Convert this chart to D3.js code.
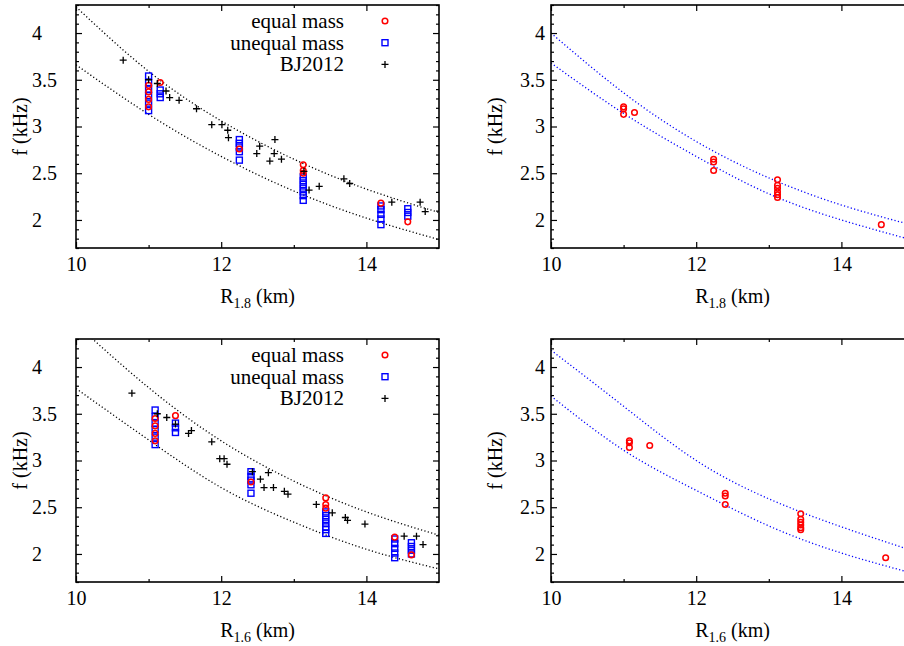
<!DOCTYPE html>
<head>
<meta charset="utf-8">
<title>Peak frequency vs radius</title>
<style>
   body {
		   margin: 0;
		   background: #ffffff;
   }
</style>
</head>
<body>

<div id="chartDiv"></div>

<script src="https://d3js.org/d3.v7.min.js"></script>
<script>

   //	Data: [R (km), f (kHz)]

   var eqMass18 = [[11.0,3.44],[11.0,3.37],[11.0,3.29],[11.0,3.21],[11.16,3.47],[12.25,2.76],
	   [13.13,2.59],[13.13,2.53],[13.13,2.50],[14.2,2.18],[14.57,1.98]];
   var uneqMass18 = [[11.0,3.54],[11.0,3.47],[11.0,3.40],[11.0,3.33],[11.0,3.25],[11.0,3.17],
	   [11.16,3.39],[11.16,3.35],[11.16,3.31],
	   [12.25,2.86],[12.25,2.82],[12.25,2.78],[12.25,2.73],[12.25,2.64],
	   [13.13,2.46],[13.13,2.42],[13.13,2.38],[13.13,2.34],[13.13,2.30],[13.13,2.26],[13.13,2.21],
	   [14.2,2.15],[14.2,2.11],[14.2,2.06],[14.2,2.01],[14.2,1.95],
	   [14.57,2.12],[14.57,2.08],[14.57,2.04]];
   var bj18 = [[10.65,3.71],[11.0,3.50],[11.12,3.46],[11.24,3.38],[11.29,3.31],[11.42,3.28],
	   [11.66,3.19],[11.87,3.02],[12.01,3.02],[12.09,2.96],[12.10,2.88],[12.49,2.71],[12.53,2.79],
	   [12.67,2.63],[12.73,2.71],[12.74,2.86],[12.83,2.65],[13.14,2.52],[13.21,2.32],[13.35,2.36],
	   [13.69,2.44],[13.77,2.39],[14.35,2.19],[14.74,2.19],[14.81,2.09]];

   var eqMass16 = [[11.09,3.45],[11.09,3.37],[11.09,3.29],[11.09,3.21],[11.37,3.48],[12.41,2.77],
	   [13.44,2.60],[13.44,2.53],[13.44,2.49],[14.39,2.18],[14.62,1.99]];
   var uneqMass16 = [[11.09,3.54],[11.09,3.47],[11.09,3.40],[11.09,3.33],[11.09,3.25],[11.09,3.17],
	   [11.37,3.40],[11.37,3.35],[11.37,3.30],
	   [12.41,2.88],[12.41,2.83],[12.41,2.79],[12.41,2.74],[12.41,2.65],
	   [13.44,2.45],[13.44,2.41],[13.44,2.37],[13.44,2.33],[13.44,2.29],[13.44,2.26],[13.44,2.22],
	   [14.39,2.16],[14.39,2.11],[14.39,2.06],[14.39,2.01],[14.39,1.96],
	   [14.62,2.12],[14.62,2.08],[14.62,2.04],[14.62,2.00]];
   var bj16 = [[10.77,3.72],[11.12,3.50],[11.25,3.46],[11.37,3.39],[11.55,3.29],[11.59,3.32],
	   [11.87,3.20],[11.98,3.02],[12.04,3.02],[12.08,2.96],[12.43,2.88],[12.54,2.80],[12.59,2.71],
	   [12.65,2.87],[12.72,2.71],[12.87,2.67],[12.92,2.64],[13.31,2.53],[13.53,2.44],[13.71,2.39],
	   [13.74,2.36],[13.98,2.32],[14.52,2.19],[14.69,2.19],[14.78,2.10]];

   var eqOnly18 = [[11.0,3.21],[11.0,3.19],[11.0,3.13],[11.15,3.15],[12.24,2.65],[12.24,2.62],
	   [12.24,2.53],[13.12,2.43],[13.12,2.37],[13.12,2.34],[13.12,2.30],[13.12,2.27],[13.12,2.24],
	   [14.55,1.95]];
   var eqOnly16 = [[11.08,3.21],[11.08,3.19],[11.08,3.14],[11.36,3.16],[12.40,2.65],[12.40,2.62],
	   [12.40,2.53],[13.44,2.43],[13.44,2.37],[13.44,2.34],[13.44,2.31],[13.44,2.28],[13.44,2.26],
	   [14.61,1.96]];

   //	Dotted bound curves, sampled at curveR

   var curveR = [10, 11, 12, 13, 14, 15];
   var boundTLhi = [4.28, 3.59, 3.06, 2.65, 2.33, 2.08];
   var boundTLlo = [3.66, 3.13, 2.68, 2.31, 2.02, 1.79];
   var boundTRhi = [4.00, 3.36, 2.84, 2.45, 2.16, 1.94];
   var boundTRlo = [3.68, 3.14, 2.68, 2.28, 2.00, 1.78];
   var boundBLhi = [4.46, 3.78, 3.21, 2.78, 2.45, 2.20];
   var boundBLlo = [3.77, 3.22, 2.71, 2.34, 2.05, 1.84];
   var boundBRhi = [4.18, 3.58, 3.00, 2.59, 2.29, 2.03];
   var boundBRlo = [3.69, 3.11, 2.68, 2.30, 2.01, 1.79];

   //	Ticks and labels

   var xMajor = [10, 12, 14];
   var xMinor = [11, 13];
   var yMajor = [2, 2.5, 3, 3.5, 4];
   var legendLabels = ["equal mass", "unequal mass", "BJ2012"];

   var serif = "'Liberation Serif', 'Times New Roman', Times, 'DejaVu Serif', serif";
   var width = 904, height = 646;
   var plotW = 363, plotH = 243;

   var svg = d3.select("#chartDiv")
	 .append("svg")
	   .attr("width", width)
	   .attr("height", height)
	   .attr("font-family", serif)
	   .style("display", "block");

   var line = d3.line().curve(d3.curveNatural);

   drawPanel({ id: "tl", left: 76, top: 5, sub: "1.8", legend: true, labelsLeft: true,
	   eq: eqMass18, uneq: uneqMass18, bj: bj18, hi: boundTLhi, lo: boundTLlo, curveColor: "#000000" });
   drawPanel({ id: "tr", left: 551, top: 5, sub: "1.8", legend: false, labelsLeft: false,
	   eq: eqOnly18, uneq: [], bj: [], hi: boundTRhi, lo: boundTRlo, curveColor: "#0000ff" });
   drawPanel({ id: "bl", left: 76, top: 339, sub: "1.6", legend: true, labelsLeft: true,
	   eq: eqMass16, uneq: uneqMass16, bj: bj16, hi: boundBLhi, lo: boundBLlo, curveColor: "#000000" });
   drawPanel({ id: "br", left: 551, top: 339, sub: "1.6", legend: false, labelsLeft: false,
	   eq: eqOnly16, uneq: [], bj: [], hi: boundBRhi, lo: boundBRlo, curveColor: "#0000ff" });

   function drawPanel(p) {
	   var x = d3.scaleLinear().domain([10, 15]).range([p.left, p.left + plotW]);
	   var y = d3.scaleLinear().domain([1.7, 4.3]).range([p.top + plotH, p.top]);
	   var g = svg.append("g");

	   g.append("clipPath")
		   .attr("id", "clip-" + p.id)
		 .append("rect")
		   .attr("x", p.left)
		   .attr("y", p.top)
		   .attr("width", plotW)
		   .attr("height", plotH);

	   var plot = g.append("g").attr("clip-path", "url(#clip-" + p.id + ")");

	   // dotted curves
	   [p.hi, p.lo].forEach(function(vals) {
		   var pts = curveR.map(function(r, i) { return [x(r), y(vals[i])]; });
		   plot.append("path")
			   .attr("d", line(pts))
			   .attr("fill", "none")
			   .attr("stroke", p.curveColor)
			   .attr("stroke-width", 1.3)
			   .attr("stroke-dasharray", "1.2,2.3");
	   });

	   // unequal mass
	   plot.selectAll("rect.uneq")
		   .data(p.uneq)
		   .enter().append("rect")
		   .attr("class", "uneq")
		   .attr("x", function(d) { return x(d[0]) - 3; })
		   .attr("y", function(d) { return y(d[1]) - 3; })
		   .attr("width", 6)
		   .attr("height", 6)
		   .attr("fill", "none")
		   .attr("stroke", "#0000ff")
		   .attr("stroke-width", 1.4);

	   // equal mass
	   plot.selectAll("circle.eq")
		   .data(p.eq)
		   .enter().append("circle")
		   .attr("class", "eq")
		   .attr("cx", function(d) { return x(d[0]); })
		   .attr("cy", function(d) { return y(d[1]); })
		   .attr("r", 2.8)
		   .attr("fill", "none")
		   .attr("stroke", "#ff0000")
		   .attr("stroke-width", 1.5);

	   // BJ2012
	   plot.selectAll("path.bj")
		   .data(p.bj)
		   .enter().append("path")
		   .attr("class", "bj")
		   .attr("d", plus)
		   .attr("transform", function(d) { return "translate(" + x(d[0]) + "," + y(d[1]) + ")"; })
		   .attr("stroke", "#000000")
		   .attr("stroke-width", 1.3);

	   // axes, ticks inward on all four sides
	   var yMinor = d3.range(17, 44).map(function(v) { return v / 10; })
		   .filter(function(v) { return yMajor.indexOf(v) < 0; });

	   addAxis(g, d3.axisBottom(x).tickValues(xMajor).tickSize(-6).tickPadding(9).tickFormat(d3.format("d")), 0, p.top + plotH);
	   addAxis(g, d3.axisBottom(x).tickValues(xMinor).tickSize(-3).tickFormat(""), 0, p.top + plotH);
	   addAxis(g, d3.axisTop(x).tickValues(xMajor).tickSize(-6).tickFormat(""), 0, p.top);
	   addAxis(g, d3.axisTop(x).tickValues(xMinor).tickSize(-3).tickFormat(""), 0, p.top);
	   var ya = addAxis(g, d3.axisLeft(y).tickValues(yMajor).tickSize(-6).tickPadding(6).tickFormat(d3.format("~g")), p.left, 0);
	   if (p.labelsLeft) {
		   ya.selectAll("text")
			   .attr("text-anchor", "start")
			   .attr("x", -44);
	   }
	   addAxis(g, d3.axisLeft(y).tickValues(yMinor).tickSize(-3).tickFormat(""), p.left, 0);
	   addAxis(g, d3.axisRight(y).tickValues(yMajor).tickSize(-6).tickFormat(""), p.left + plotW, 0);
	   addAxis(g, d3.axisRight(y).tickValues(yMinor).tickSize(-3).tickFormat(""), p.left + plotW, 0);

	   g.append("rect")
		   .attr("x", p.left)
		   .attr("y", p.top)
		   .attr("width", plotW)
		   .attr("height", plotH)
		   .attr("fill", "none")
		   .attr("stroke", "#000000")
		   .attr("stroke-width", 1.6);

	   // axis titles
	   g.append("text")
		   .attr("transform", "translate(" + (p.left - 55) + "," + (p.top + plotH / 2) + ") rotate(-90)")
		   .attr("text-anchor", "middle")
		   .attr("dy", "0.32em")
		   .style("font-size", "20px")
		   .text("f (kHz)");

	   var xt = g.append("text")
		   .attr("x", p.left + plotW / 2)
		   .attr("y", p.top + plotH + 55)
		   .attr("text-anchor", "middle")
		   .style("font-size", "20px");
	   xt.append("tspan").text("R");
	   xt.append("tspan").attr("dy", 5).style("font-size", "14px").text(p.sub);
	   xt.append("tspan").attr("dy", -5).text(" (km)");

	   if (p.legend) {
		   var rows = g.selectAll("g.leg")
			   .data(legendLabels)
			   .enter().append("g")
			   .attr("class", "leg")
			   .attr("transform", function(d, i) { return "translate(0," + (p.top + 16 + i * 21.7) + ")"; });
		   rows.append("text")
			   .attr("x", p.left + 268)
			   .attr("dy", "0.33em")
			   .attr("text-anchor", "end")
			   .style("font-size", "21px")
			   .text(function(d) { return d; });
		   var sx = p.left + 309;
		   rows.filter(function(d, i) { return i === 0; }).append("circle")
			   .attr("cx", sx).attr("cy", 0).attr("r", 2.8)
			   .attr("fill", "none").attr("stroke", "#ff0000").attr("stroke-width", 1.5);
		   rows.filter(function(d, i) { return i === 1; }).append("rect")
			   .attr("x", sx - 3).attr("y", -3).attr("width", 6).attr("height", 6)
			   .attr("fill", "none").attr("stroke", "#0000ff").attr("stroke-width", 1.4);
		   rows.filter(function(d, i) { return i === 2; }).append("path")
			   .attr("d", plus).attr("transform", "translate(" + sx + ",0)")
			   .attr("stroke", "#000000").attr("stroke-width", 1.3);
	   }

	   g.selectAll("text").style("font-family", serif).attr("fill", "#000000");
   }

   function plus() {
	   return "M-3.5,0H3.5M0,-3.5V3.5";
   }

   function addAxis(g, axis, tx, ty) {
	   var a = g.append("g")
		   .attr("transform", "translate(" + tx + "," + ty + ")")
		   .call(axis)
		   .attr("font-family", null)
		   .attr("font-size", null);
	   a.select(".domain").remove();
	   a.selectAll("line").attr("stroke", "#000000").attr("stroke-width", 1.2);
	   a.selectAll("text").style("font-size", "20px");
	   return a;
   }
</script>
</body>
